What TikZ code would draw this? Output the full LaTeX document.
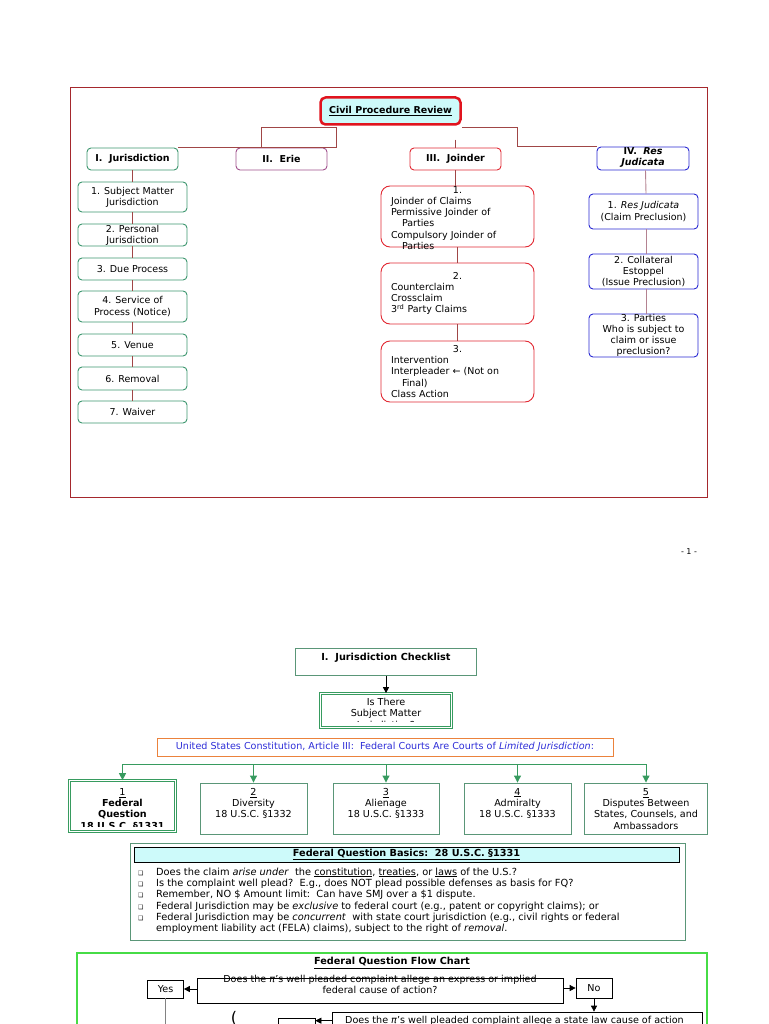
\documentclass[tikz,border=0pt]{standalone}
\usepackage{fontspec}
\setmainfont{DejaVu Sans}
\usetikzlibrary{arrows.meta,positioning}

\definecolor{framered}{RGB}{165,40,45}
\definecolor{titlered}{RGB}{225,20,30}
\definecolor{titlecyan}{RGB}{205,250,250}
\definecolor{linkred}{RGB}{160,70,70}
\definecolor{jurgreen}{RGB}{60,150,110}
\definecolor{eriepurple}{RGB}{160,80,140}
\definecolor{joinred}{RGB}{225,40,50}
\definecolor{resblue}{RGB}{40,40,210}
\definecolor{reslink}{RGB}{180,130,145}
\definecolor{busgreen}{RGB}{55,155,95}
\definecolor{orangeline}{RGB}{235,130,60}
\definecolor{textblue}{RGB}{45,45,215}
\definecolor{basicsgreen}{RGB}{90,150,120}
\definecolor{flowgreen}{RGB}{70,220,70}
\definecolor{yesgray}{RGB}{130,130,130}

\tikzset{
  >={Triangle[length=6pt,width=6pt]},
  topfont/.style={font=\fontsize{9.5}{11.2}\selectfont},
  botfont/.style={font=\fontsize{9.6}{11.3}\selectfont},
  plain/.style={inner sep=0pt, align=center},
  link/.style={linkred, line width=0.9pt},
  titlebox/.style={draw=titlered, fill=titlecyan, line width=2.5pt, rounded corners=5pt,
    minimum width=140pt, minimum height=27pt, topfont},
  headbox/.style={draw, line width=0.9pt, rounded corners=4pt, minimum width=91pt,
    minimum height=22pt, topfont, align=center, inner sep=0pt},
  jbox/.style={headbox, draw=jurgreen, minimum width=109pt},
  kbox/.style={headbox, draw=joinred, rounded corners=9pt, minimum width=153pt,
    minimum height=61pt, text width=133pt, align=left},
  rbox/.style={headbox, draw=resblue, minimum width=109pt},
  gbox/.style={draw=basicsgreen, line width=0.9pt, inner sep=0pt},
  dblbox/.style={draw=busgreen, double, double distance=1.4pt, line width=0.7pt, inner sep=0pt},
  fbox/.style={draw, line width=0.7pt, inner sep=0pt, botfont},
  bus/.style={busgreen, line width=1pt},
}

\begin{document}
\begin{tikzpicture}[x=1pt,y=-1pt]
\useasboundingbox (0,0) rectangle (768,1024);

% page 1: overview chart
\draw[framered, line width=0.9pt] (70,87) rectangle (707,497);
\node[titlebox] (title) at (390.5,111) {\underline{\textbf{Civil Procedure Review}}};

\node[headbox, draw=jurgreen] (jur) at (132.5,159) {\textbf{I.\ \ Jurisdiction}};
\node[headbox, draw=eriepurple] (erie) at (281.5,159) {\textbf{II.\ \ Erie}};
\node[headbox, draw=joinred] (joinder) at (455.5,159) {\textbf{III.\ \ Joinder}};
\node[headbox, draw=resblue, minimum width=92pt, minimum height=23pt] (res) at (643,158.5) {};
\node[topfont, plain] (res-t) at ([yshift=1pt]res.center) {\textbf{IV.\ \ \textit{Res}}\\\textbf{\textit{Judicata}}};

\coordinate (hubL) at (336,127);
\coordinate (hubR) at (517,127);
\draw[link] (hubL) |- (jur.north east);
\draw[link] (hubL) -| ([xshift=26pt]erie.north west);
\draw[link] ([yshift=8pt]joinder.north) -- (joinder.north);
\draw[link] (title.east |- hubR) -- (hubR) |- (res.north west);

% I. jurisdiction
\node[jbox, minimum height=30pt] (j1) at (132.5,197) {1. Subject Matter\\Jurisdiction};
\node[jbox] (j2) at (132.5,235) {};
\node[topfont, plain] (j2-t) at (j2.center) {2. Personal\\Jurisdiction};
\node[jbox] (j3) at (132.5,269) {3. Due Process};
\node[jbox, minimum height=31pt] (j4) at (132.5,306.5) {4. Service of\\Process (Notice)};
\node[jbox] (j5) at (132.5,345) {5. Venue};
\node[jbox, minimum height=23pt] (j6) at (132.5,378.5) {6. Removal};
\node[jbox] (j7) at (132.5,412) {7. Waiver};
\foreach \a/\b in {jur/j1,j1/j2,j2/j3,j3/j4,j4/j5,j5/j6,j6/j7}
  \draw[link] (\a.south) -- (\b.north);

% III. joinder
\node[kbox] (k1) at (457.5,216.5) {};
\node[topfont, inner sep=0pt, text width=133pt, align=left] (k1-t) at ([yshift=-1.5pt]k1.center)
  {\hfill 1.\hfill\mbox{}\\Joinder of Claims\\Permissive Joinder of\\\hspace*{11pt}Parties\\Compulsory Joinder of\\\hspace*{11pt}Parties};
\node[kbox] (k2) at (457.5,293.5)
  {\hfill 2.\hfill\mbox{}\\Counterclaim\\Crossclaim\\3\textsuperscript{rd} Party Claims};
\node[kbox] (k3) at (457.5,371.5)
  {\hfill 3.\hfill\mbox{}\\Intervention\\Interpleader ← (Not on\\\hspace*{11pt}Final)\\Class Action};
\foreach \a/\b in {joinder/k1,k1/k2,k2/k3}
  \draw[link] (\a.south) -- (\a.south |- \b.north);

% IV. res judicata
\node[rbox, minimum height=35pt] (r1) at (643.5,211.5) {1. \textit{Res Judicata}\\(Claim Preclusion)};
\node[rbox, minimum height=35pt] (r2) at (643.5,271.5) {2. Collateral\\Estoppel\\(Issue Preclusion)};
\node[rbox, minimum height=43pt] (r3) at (643.5,335.5) {3. Parties\\Who is subject to\\claim or issue\\preclusion?};
\foreach \a/\b in {res/r1,r1/r2,r2/r3}
  \draw[reslink, line width=0.9pt] ([xshift=2.5pt]\a.south) -- ([xshift=2.5pt]\b.north);

\node[font=\fontsize{8}{8}\selectfont, inner sep=0pt] (pagenum) at (689,552) {- 1 -};

% page 2: jurisdiction checklist
\node[gbox, minimum width=181pt, minimum height=27pt] (chk) at (386,662) {};
\node[plain, font=\bfseries\fontsize{9.7}{11}\selectfont, below=5pt of chk.north] (chk-t) {I.\ \ Jurisdiction Checklist};
\node[dblbox, minimum width=131pt, minimum height=34pt] (isthere) at (386,710.5) {};
\begin{scope}
  \clip ([xshift=2pt,yshift=-2pt]isthere.north west) rectangle ([xshift=-2pt,yshift=6pt]isthere.south east);
  \node[botfont, plain, below=5pt of isthere.north] (isthere-t) {Is There\\Subject Matter\\Jurisdiction?};
\end{scope}
\draw[->, line width=0.9pt] (chk.south) -- (isthere.north);

\node[draw=orangeline, line width=0.9pt, minimum width=456pt, minimum height=18pt, inner sep=0pt, botfont] (const) at (385,747)
  {\textcolor{textblue}{United States Constitution, Article III:\ \ Federal Courts Are Courts of \textit{Limited Jurisdiction}:}};

\node[dblbox, minimum width=106pt, minimum height=51pt] (b1) at (122.5,806) {};
\node[gbox, minimum width=107pt, minimum height=51pt] (b2) at (253.5,808.5) {};
\node[gbox, minimum width=106pt, minimum height=51pt] (b3) at (386,808.5) {};
\node[gbox, minimum width=107pt, minimum height=51pt] (b4) at (517.5,808.5) {};
\node[gbox, minimum width=123pt, minimum height=51pt] (b5) at (646,808.5) {};
\begin{scope}
  \clip (b1.north west) rectangle ([yshift=5pt]b1.south east);
  \node[botfont, plain, below=8pt of b1.north] (b1-t) {\underline{1}\\\textbf{Federal}\\\textbf{Question}\\\textbf{18 U.S.C. §1331}};
\end{scope}
\node[botfont, plain, below=5.5pt of b2.north] (b2-t) {\underline{2}\\Diversity\\18 U.S.C. §1332};
\node[botfont, plain, below=5.5pt of b3.north] (b3-t) {\underline{3}\\Alienage\\18 U.S.C. §1333};
\node[botfont, plain, below=5.5pt of b4.north] (b4-t) {\underline{4}\\Admiralty\\18 U.S.C. §1333};
\node[botfont, plain, below=5.5pt of b5.north] (b5-t) {\underline{5}\\Disputes Between\\States, Counsels, and\\Ambassadors};

\coordinate (busL) at (122.5,764);
\coordinate (busR) at (646,764);
\draw[bus] (busL) -- (busR);
\foreach \b in {b1,b2,b3,b4,b5}
  \draw[bus, -{Triangle[length=7pt,width=7pt]}] (busL -| \b.north) -- (\b.north);

% federal question basics
\node[gbox, minimum width=555pt, minimum height=97pt] (basics) at (407.5,891.5) {};
\node[draw, fill=titlecyan, line width=0.7pt, minimum width=545pt, minimum height=15pt, inner sep=0pt,
  font=\fontsize{9.7}{10}\selectfont] (basics-bar) at (406.5,854.5) {\underline{\textbf{Federal Question Basics:\ \ 28 U.S.C. §1331}}};
\node[anchor=north west, inner sep=0pt, align=left, font=\fontsize{9.8}{11.3}\selectfont] (basics-list) at (138,867.5)
  {\makebox[18pt][l]{\fontsize{6}{6}\selectfont ❑}Does the claim \textit{arise under}\ \ the \underline{constitution}, \underline{treaties}, or \underline{laws} of the U.S.?\\
   \makebox[18pt][l]{\fontsize{6}{6}\selectfont ❑}Is the complaint well plead?\ \ E.g., does NOT plead possible defenses as basis for FQ?\\
   \makebox[18pt][l]{\fontsize{6}{6}\selectfont ❑}Remember, NO \$ Amount limit:\ \ Can have SMJ over a \$1 dispute.\\
   \makebox[18pt][l]{\fontsize{6}{6}\selectfont ❑}Federal Jurisdiction may be \textit{exclusive} to federal court (e.g., patent or copyright claims); or\\
   \makebox[18pt][l]{\fontsize{6}{6}\selectfont ❑}Federal Jurisdiction may be \textit{concurrent}\ \ with state court jurisdiction (e.g., civil rights or federal\\
   \hspace*{18pt}employment liability act (FELA) claims), subject to the right of \textit{removal}.};

% federal question flow chart
\draw[flowgreen, line width=1.1pt] (77,953) rectangle (707,1040);
\node[plain, font=\fontsize{9.7}{10}\selectfont] (flow-title) at (392,963) {\underline{\textbf{Federal Question Flow Chart}}};
\node[fbox, minimum width=36pt, minimum height=18pt] (yes) at (165.5,989) {Yes};
\node[fbox, minimum width=366pt, minimum height=25pt] (q1) at (380,990.5) {};
\node[botfont, plain] (q1-t) at ([yshift=6pt]q1.center) {Does the \textit{π}'s well pleaded complaint allege an express or implied\\federal cause of action?};
\node[fbox, minimum width=36pt, minimum height=20pt] (no) at (594,988) {No};
\node[fbox, minimum width=370pt, minimum height=30pt] (q2) at (517,1027) {};
\node[botfont, inner sep=0pt, anchor=north west] (q2-t) at (345,1016) {Does the \textit{π}'s well pleaded complaint allege a state law cause of action};
\node[fbox, minimum width=37pt, minimum height=24pt] (yes2) at (296.5,1030) {};
\node[inner sep=0pt, anchor=north, font=\fontsize{16}{16}\selectfont] (paren) at (234,1011) {(};

\draw[->, line width=0.7pt] (q1.west |- yes.east) -- (yes.east);
\draw[->, line width=0.7pt] (q1.east |- no.west) -- (no.west);
\draw[->, line width=0.7pt] (no.south) -- (no.south |- q2.north);
\coordinate (q2-in) at ([yshift=-9pt]q2.north west);
\draw[->, line width=0.7pt] (q2-in) -- (q2-in -| yes2.east);
\draw[yesgray, line width=0.9pt] (yes.south) -- (yes.south |- 0,1030);
\end{tikzpicture}
\end{document}
